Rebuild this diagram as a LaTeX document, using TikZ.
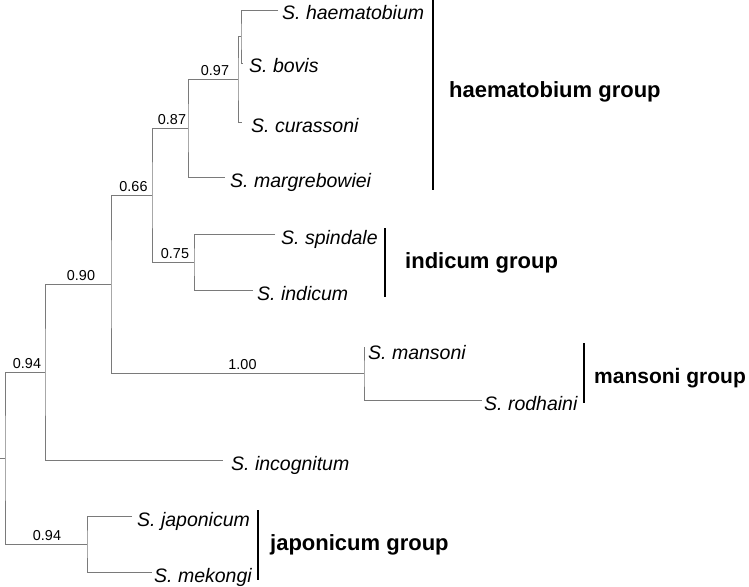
\documentclass[tikz,border=0pt]{standalone}
\usepackage{fontspec}
\setmainfont{Liberation Sans}
\usetikzlibrary{calc}
\begin{document}
\begin{tikzpicture}[x=1pt,y=-1pt,
  br/.style={draw=black!52, line width=0.8pt},
  sp/.style={anchor=base west, inner sep=0pt, font=\fontsize{19.5}{20}\selectfont\itshape},
  grp/.style={anchor=base west, inner sep=0pt, font=\fontsize{22}{24}\selectfont\bfseries},
  gbar/.style={draw=black, line width=2.4pt},
  pp/.style={anchor=base, inner sep=0pt, font=\fontsize{14.4}{16}\selectfont}]
\fill[white] (0,0) rectangle (749,586);
\useasboundingbox (0,0) rectangle (749,586);
% leaf tips
\coordinate (haem) at (278,10);
\coordinate (bov) at (243,63);
\coordinate (cur) at (242,122);
\coordinate (mar) at (225,177);
\coordinate (spi) at (275,234);
\coordinate (ind) at (253,290);
\coordinate (man) at (364,347);
\coordinate (rod) at (482,400);
\coordinate (inc) at (223,460);
\coordinate (jap) at (132,516);
\coordinate (mek) at (152,572);
% internal nodes
\coordinate (nA) at (241,36.5);
\coordinate (n97) at (238,79);
\coordinate (n87) at (188,128);
\coordinate (n75) at (194,262);
\coordinate (n66) at (152,195);
\coordinate (nman) at (364,373.5);
\coordinate (n90) at (111,284);
\coordinate (n94) at (45,372);
\coordinate (nj) at (87,544);
\coordinate (root) at (5,458);
\coordinate (stub) at (0,458);
% branches
\draw[br] (haem) -| (nA) |- (bov);
\draw[br] (nA) -| (n97) |- (cur);
\draw[br] (n97) -| (n87) |- (mar);
\draw[br] (spi) -| (n75) |- (ind);
\draw[br] (n87) -| (n66) |- (n75);
\draw[br] (man) -| (nman) |- (rod);
\draw[br] (n66) -| (n90) |- (nman);
\draw[br] (n90) -| (n94) |- (inc);
\draw[br] (jap) -| (nj) |- (mek);
\draw[br] (n94) -| (root) |- (nj);
\draw[br] (root) -- (stub);
% support values
\node[pp] (l97) at ($(n87|-n97)!0.5!(n97)+(2,-4)$) {0.97};
\node[pp] (l87) at ($(n66|-n87)!0.5!(n87)+(2,-4)$) {0.87};
\node[pp] (l66) at ($(n90|-n66)!0.5!(n66)+(2,-4)$) {0.66};
\node[pp] (l75) at ($(n66|-n75)!0.5!(n75)+(2,-4)$) {0.75};
\node[pp] (l90) at ($(n94|-n90)!0.5!(n90)+(3,-4)$) {0.90};
\node[pp] (l100) at ($(n90|-nman)!0.5!(nman)+(5,-4)$) {1.00};
\node[pp] (l94a) at ($(root|-n94)!0.5!(n94)+(2,-4)$) {0.94};
\node[pp] (l94b) at ($(root|-nj)!0.5!(nj)+(1,-4)$) {0.94};
% species
\node[sp] (thaem) at (282,20) {S. haematobium};
\node[sp] (tbov) at (249,73) {S. bovis};
\node[sp] (tcur) at (251,132) {S. curassoni};
\node[sp] (tmar) at (230,187) {S. margrebowiei};
\node[sp] (tspi) at (281,244) {S. spindale};
\node[sp] (tind) at (257,300) {S. indicum};
\node[sp] (tman) at (368,359) {S. mansoni};
\node[sp] (trod) at (484,410) {S. rodhaini};
\node[sp] (tinc) at (231,470) {S. incognitum};
\node[sp] (tjap) at (137,526) {S. japonicum};
\node[sp] (tmek) at (154,582) {S. mekongi};
% group bars
\coordinate (hb1) at (433,0); \coordinate (hb2) at (433,190);
\coordinate (ib1) at (385,228); \coordinate (ib2) at (385,297);
\coordinate (mb1) at (584,343); \coordinate (mb2) at (584,403);
\coordinate (jb1) at (258,510); \coordinate (jb2) at (258,580);
\draw[gbar] (hb1) -- (hb2);
\draw[gbar] (ib1) -- (ib2);
\draw[gbar] (mb1) -- (mb2);
\draw[gbar] (jb1) -- (jb2);
% group labels
\node[grp] (ghaem) at (449,97) {haematobium group};
\node[grp] (gind) at (405,268) {indicum group};
\node[grp, font=\fontsize{21}{23}\selectfont\bfseries] (gman) at (594,383) {mansoni group};
\node[grp] (gjap) at (270,550) {japonicum group};
\end{tikzpicture}
\end{document}
